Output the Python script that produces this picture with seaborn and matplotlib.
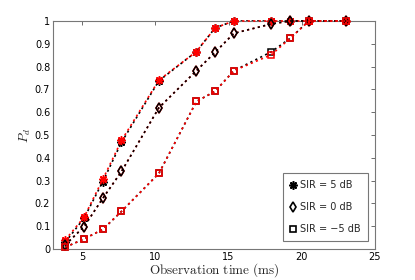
import matplotlib
matplotlib.use("Agg")
import matplotlib.pyplot as plt
import seaborn as sns
import pandas as pd

obs_time = [3.84, 5.12, 6.4, 7.68, 10.24, 12.8, 14.08, 15.36, 17.92, 19.2, 20.48, 23.04]

# theory (black) and simulation (red)
pd_5_theory = [0.03, 0.135, 0.295, 0.468, 0.738, 0.866, 0.97, 1.0, 1.0, 1.0, 1.0, 1.0]
pd_5_sim = [0.04, 0.139, 0.305, 0.476, 0.741, 0.866, 0.97, 1.0, 1.0, 1.0, 1.0, 1.0]
pd_0_theory = [0.018, 0.098, 0.222, 0.34, 0.62, 0.782, 0.863, 0.946, 0.987, 1.0, 1.0, 1.0]
pd_0_sim = [0.018, 0.098, 0.222, 0.34, 0.62, 0.782, 0.863, 0.946, 0.987, 1.0, 1.0, 1.0]
pd_m5_theory = [0.008, 0.044, 0.086, 0.165, 0.332, 0.647, 0.692, 0.782, 0.865, 0.924, 1.0, 1.0]
pd_m5_sim = [0.008, 0.044, 0.086, 0.165, 0.332, 0.647, 0.692, 0.782, 0.852, 0.924, 1.0, 1.0]

labels = ["SIR = 5 dB", "SIR = 0 dB", "SIR = \u22125 dB"]
xticks = [5, 10, 15, 20, 25]
yticks = [0, 0.1, 0.2, 0.3, 0.4, 0.5, 0.6, 0.7, 0.8, 0.9, 1]

sns.set_style("white")
plt.rcParams["font.family"] = ["DejaVu Sans"]
plt.rcParams["mathtext.fontset"] = "cm"

fig = plt.figure(figsize=(4.15, 2.8), dpi=100)
ax = fig.add_axes([0.1277, 0.1107, 0.7759, 0.8143])

asterisk = (8, 2, 0)
markers = [asterisk, "d", "s"]
theory = [pd_5_theory, pd_0_theory, pd_m5_theory]
sim = [pd_5_sim, pd_0_sim, pd_m5_sim]
red = (1, 0, 0)
dash = (0, (1.3, 2.0))

handles = []
for i in range(3):
    df_t = pd.DataFrame({"x": obs_time, "y": theory[i]})
    df_s = pd.DataFrame({"x": obs_time, "y": sim[i]})
    black_on_top = (i == 1)
    zt = 4 if black_on_top else 2
    zs = 2 if black_on_top else 4
    mk = markers[i]
    ms = 6 if i == 0 else 5
    sns.lineplot(data=df_t, x="x", y="y", ax=ax, color="black", linestyle=dash,
                 linewidth=1.2, marker=mk, markersize=ms, markerfacecolor="none",
                 markeredgecolor="black", markeredgewidth=1.1, zorder=zt, clip_on=False)
    sns.lineplot(data=df_s, x="x", y="y", ax=ax, color=red, linestyle=dash,
                 linewidth=1.2, marker=mk, markersize=ms, markerfacecolor="none",
                 markeredgecolor=red, markeredgewidth=1.1, zorder=zs, clip_on=False)
    h, = ax.plot([], [], linestyle="none", marker=mk, markersize=ms,
                 markerfacecolor="none", markeredgecolor="black", markeredgewidth=1.2)
    handles.append(h)

ax.set_xlim(3, 25)
ax.set_ylim(0, 1)
ax.set_xticks(xticks)
ax.set_xticklabels([str(t) for t in xticks])
ax.set_yticks(yticks)
ax.set_yticklabels(["0"] + [f"{t:g}" for t in yticks[1:-1]] + ["1"])
ax.tick_params(direction="in", length=3, width=0.6, colors="#555555", labelsize=7,
               labelcolor="black", top=True, right=True, pad=2)
for s in ax.spines.values():
    s.set_color("#777777")
    s.set_linewidth(0.8)

ax.set_xlabel(r"$\mathrm{Observation\ time\ (ms)}$", fontsize=9.5, labelpad=-0.3)
ax.set_ylabel(r"$P_d$", fontsize=9.5, labelpad=1)

leg = ax.legend(handles, labels, loc="lower right", bbox_to_anchor=(0.978, 0.035),
                fontsize=7, frameon=True, fancybox=False, handlelength=0.6,
                handletextpad=0.5, labelspacing=1.25, borderpad=0.7, borderaxespad=0)
leg.get_frame().set_edgecolor("#555555")
leg.get_frame().set_linewidth(0.8)

fig.savefig("out.png", dpi=100)
